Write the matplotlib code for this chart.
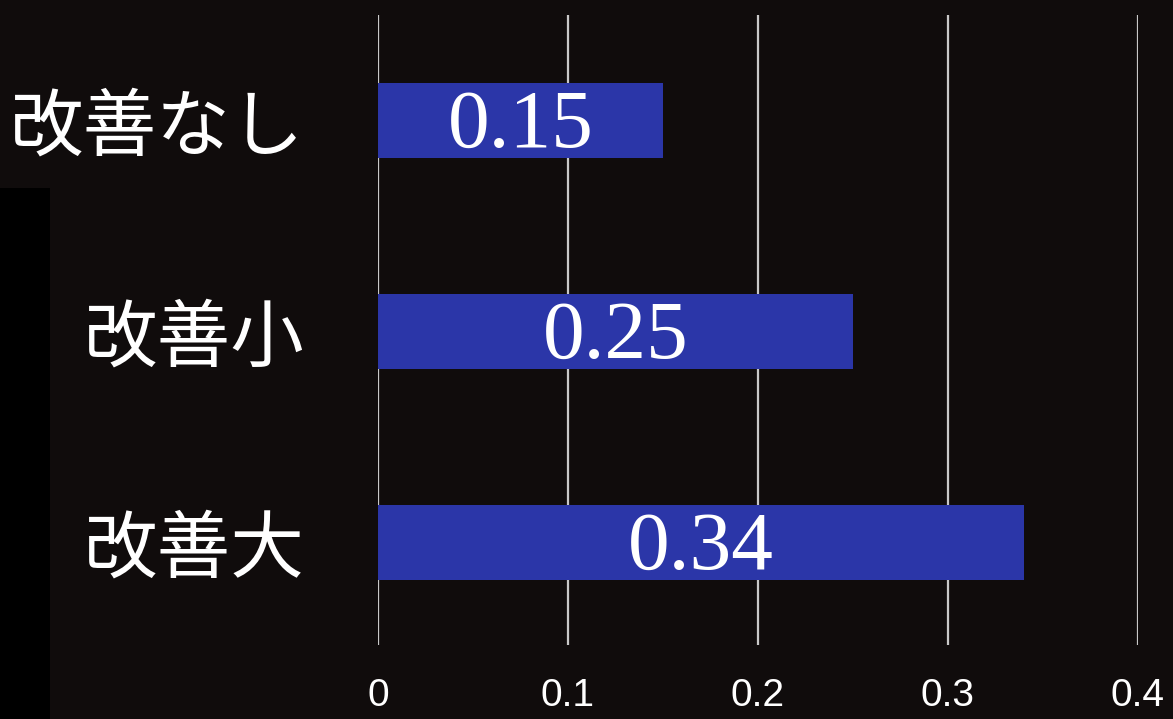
import matplotlib.pyplot as plt
from matplotlib.patches import Rectangle

# data
categories = ['改善なし', '改善小', '改善大']
values = [0.15, 0.25, 0.34]
value_labels = ['0.15', '0.25', '0.34']
x_ticks = [0, 0.1, 0.2, 0.3, 0.4]
x_tick_labels = ['0', '0.1', '0.2', '0.3', '0.4']

bg = '#100c0c'
barcolor = '#2b36a8'
gridcolor = '#c8c8c8'

plt.rcParams['font.family'] = ['Noto Sans CJK JP', 'DejaVu Sans']

W, H = 1173, 719
fig = plt.figure(figsize=(W / 100, H / 100), dpi=100, facecolor=bg)
ax = fig.add_axes([378 / W, 1 - 645 / H, (1138 - 378) / W, (645 - 15) / H])
ax.set_facecolor(bg)

# black strip on the left
fig.patches.append(Rectangle((0, 0), 50 / W, 1 - 188 / H, transform=fig.transFigure,
                             facecolor='black', edgecolor='none', zorder=0))

pos = list(range(len(categories)))
ax.barh(pos, values, height=0.355, color=barcolor, zorder=2)

for p, v, lab in zip(pos, values, value_labels):
    ax.text(v / 2, p + 0.03, lab, ha='center', va='center', color='white',
            fontsize=60, family='Liberation Serif', zorder=3)

for t in x_ticks:
    ax.axvline(t, color=gridcolor, linewidth=1.6, zorder=1)

ax.set_xlim(0, 0.4)
ax.set_ylim(2.486, -0.5)

ax.set_yticks(pos)
ax.set_yticklabels(categories, fontsize=53, color='white')
ax.set_xticks(x_ticks)
ax.set_xticklabels(x_tick_labels, fontsize=28, color='white', family='Liberation Sans')
ax.tick_params(axis='y', length=0, pad=53)
ax.tick_params(axis='x', length=0, pad=24)

for s in ax.spines.values():
    s.set_visible(False)

fig.savefig('out.png', dpi=100, facecolor=bg)
